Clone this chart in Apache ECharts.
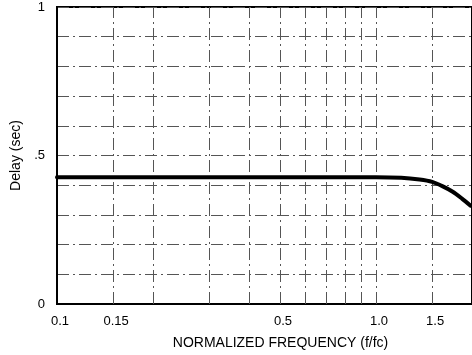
<!DOCTYPE html>
<html>
<head>
<meta charset="utf-8">
<script src="https://cdn.jsdelivr.net/npm/echarts@6/dist/echarts.min.js"></script>
<style>
html,body{margin:0;padding:0;background:#fff;}
#c{width:472px;height:355px;}
</style>
</head>
<body>
<div id="c"></div>
<script>
// Data
var freq  = [0.1, 0.5, 1.0, 1.2, 1.37, 1.5, 1.62, 1.74, 1.86, 1.98];
var delay = [0.427, 0.427, 0.427, 0.425, 0.419, 0.411, 0.396, 0.378, 0.355, 0.331];
var xTickLabels = [0.1, 0.15, 0.5, 1.0, 1.5];
var xGridValues = [0.15, 0.2, 0.3, 0.4, 0.5, 0.6, 0.7, 0.8, 0.9, 1.0, 1.5];
var yLabelMap = {'0': '0', '0.5': '.5', '1': '1'};

var FONT = '"Liberation Sans", Arial, Helvetica, sans-serif';
var gridLineStyle = {color: '#555', width: 1, type: [12, 4, 2, 4]};

var chart = echarts.init(document.getElementById('c'));
chart.setOption({
  animation: false,
  backgroundColor: '#fff',
  grid: {left: 57, top: 7, bottom: 49, right: -1.3, show: true, borderColor: '#000', borderWidth: 2, containLabel: false},
  xAxis: {
    type: 'log', logBase: 10, min: 0.1, max: 2.0,
    name: 'NORMALIZED FREQUENCY (f/fc)', nameLocation: 'middle', nameGap: 32,
    nameTextStyle: {fontFamily: FONT, fontSize: 14, color: '#000', padding: [0, 0, 0, 32]},
    axisLine: {show: true, lineStyle: {color: '#000', width: 2}},
    axisTick: {show: false},
    splitLine: {show: false},
    axisLabel: {
      customValues: xTickLabels,
      fontFamily: FONT, fontSize: 13, color: '#000', margin: 11, padding: [0, 0, 0, 6],
      formatter: function (v) {
        if (Math.abs(v - 1) < 1e-9) return '1.0';
        return String(+v.toFixed(2));
      }
    }
  },
  yAxis: {
    type: 'value', min: 0, max: 1, interval: 0.1,
    name: 'Delay (sec)', nameLocation: 'middle', nameGap: 28, nameRotate: 90,
    nameTextStyle: {fontFamily: FONT, fontSize: 14, color: '#000'},
    axisLine: {show: true, lineStyle: {color: '#000', width: 2}},
    axisTick: {show: false},
    splitLine: {show: true, lineStyle: gridLineStyle},
    axisLabel: {
      fontFamily: FONT, fontSize: 13, color: '#000', margin: 12,
      showMinLabel: true, showMaxLabel: true,
      formatter: function (v) {
        var k = String(Math.round(v * 10) / 10);
        return yLabelMap.hasOwnProperty(k) ? yLabelMap[k] : '';
      }
    }
  },
  series: [{
    type: 'line',
    data: freq.map(function (f, i) { return [f, delay[i]]; }),
    smooth: 0.3,
    showSymbol: false,
    lineStyle: {color: '#000', width: 4, join: 'round', cap: 'round'},
    z: 5,
    markLine: {
      silent: true,
      symbol: ['none', 'none'],
      label: {show: false},
      lineStyle: gridLineStyle,
      emphasis: {disabled: true},
      data: xGridValues.map(function (v) { return {xAxis: v}; })
    }
  }]
});
</script>
</body>
</html>
